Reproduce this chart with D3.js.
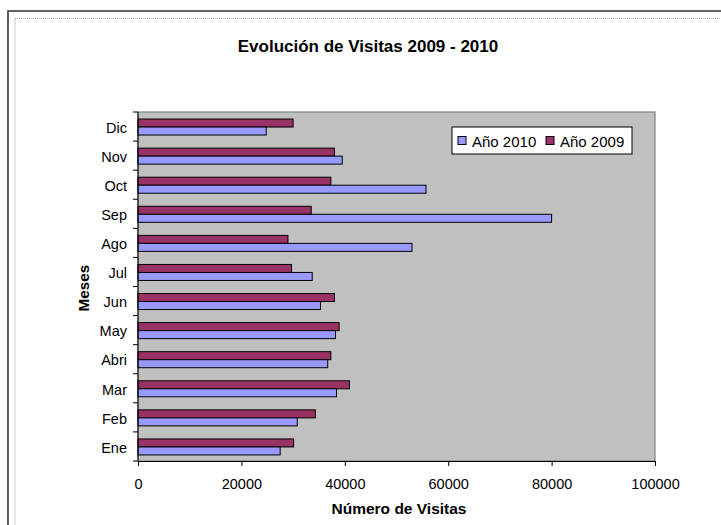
<!DOCTYPE html>
<html>
<head>
<meta charset="utf-8">
<script src="https://cdn.jsdelivr.net/npm/d3@7/dist/d3.min.js"></script>
<style>
body{margin:0;background:#fff}
svg text{font-family:"Liberation Sans",Arial,sans-serif;fill:#000}
</style>
</head>
<body>
<div id="chart"></div>
<script>
var width = 721
var height = 525

// data
var months = ["Ene","Feb","Mar","Abri","May","Jun","Jul","Ago","Sep","Oct","Nov","Dic"]
var visitas2010 = [27500,30800,38400,36700,38200,35300,33700,53000,80000,55700,39500,24800]
var visitas2009 = [30100,34300,40900,37300,38900,38000,29700,29000,33500,37300,38000,30000]
var xTicks = [0,20000,40000,60000,80000,100000]
var seriesNames = ["Año 2010","Año 2009"]
var seriesColors = ["#9999ff","#993366"]

var plot = {left:138, right:655, top:112, bottom:461}
var barH = 8

var svg = d3.select("#chart").append("svg")
	.attr("width",width)
	.attr("height",height)

// frame
svg.append("rect")
	.attr("x",8).attr("y",11)
	.attr("width",width+20).attr("height",height+20)
	.attr("fill","#fff")
	.attr("stroke","#3a3a3a")
	.attr("stroke-width",1.6)
svg.append("rect")
	.attr("x",15).attr("y",18.5)
	.attr("width",width+20).attr("height",height+20)
	.attr("fill","none")
	.attr("stroke","#9a9a9a")
	.attr("stroke-width",1)
	.attr("stroke-dasharray","1,1")

var x = d3.scaleLinear().domain([0,100000]).range([plot.left,plot.right])
var y = d3.scaleBand().domain(months).range([plot.bottom,plot.top])

// plot area
svg.append("rect")
	.attr("x",plot.left).attr("y",plot.top)
	.attr("width",plot.right-plot.left)
	.attr("height",plot.bottom-plot.top)
	.attr("fill","#c0c0c0")
	.attr("stroke","#808080")
	.attr("stroke-width",1.2)

// bars
var rows = months.map(function(m,i){
	return {mes:m, v2010:visitas2010[i], v2009:visitas2009[i]}
})
var mid = function(d){ return y(d.mes)+y.bandwidth()/2 }

svg.selectAll(".b2009")
	.data(rows)
	.enter()
	.append("rect")
	.attr("class","b2009")
	.attr("x",x(0))
	.attr("y",function(d){ return mid(d)-barH+0.5 })
	.attr("width",function(d){ return x(d.v2009)-x(0) })
	.attr("height",barH)
	.attr("fill",seriesColors[1])
	.attr("stroke","#000")
	.attr("stroke-width",1)

svg.selectAll(".b2010")
	.data(rows)
	.enter()
	.append("rect")
	.attr("class","b2010")
	.attr("x",x(0))
	.attr("y",function(d){ return mid(d)+0.5 })
	.attr("width",function(d){ return x(d.v2010)-x(0) })
	.attr("height",barH)
	.attr("fill",seriesColors[0])
	.attr("stroke","#000")
	.attr("stroke-width",1)

// x axis
var xAxis = d3.axisBottom(x)
	.tickValues(xTicks)
	.tickSize(5)
	.tickPadding(13)
	.tickFormat(d3.format("d"))
var gx = svg.append("g")
	.attr("transform","translate(0,"+plot.bottom+")")
	.call(xAxis)
gx.select(".domain").attr("stroke","#000")
gx.selectAll("text").style("font-size","14.5px")

// y axis: labels at band centres, ticks at band edges
var yAxis = d3.axisLeft(y).tickSize(0).tickPadding(11)
var gy = svg.append("g")
	.attr("transform","translate("+plot.left+",0)")
	.call(yAxis)
gy.select(".domain").remove()
gy.selectAll("text").style("font-size","14.5px").attr("dy","0.43em")

var edges = months.map(function(m){ return y(m) }).concat([plot.bottom])
svg.selectAll(".ytick")
	.data(edges)
	.enter()
	.append("line")
	.attr("x1",plot.left-5).attr("x2",plot.left)
	.attr("y1",function(d){ return d }).attr("y2",function(d){ return d })
	.attr("stroke","#000")
svg.append("line")
	.attr("x1",plot.left).attr("x2",plot.left)
	.attr("y1",plot.top).attr("y2",plot.bottom)
	.attr("stroke","#000")

// titles
svg.append("text")
	.attr("x",368).attr("y",52)
	.attr("text-anchor","middle")
	.style("font-size","17px").style("font-weight","bold")
	.text("Evolución de Visitas 2009 - 2010")
svg.append("text")
	.attr("x",399).attr("y",514)
	.attr("text-anchor","middle")
	.style("font-size","15.5px").style("font-weight","bold")
	.text("Número de Visitas")
svg.append("text")
	.attr("transform","translate(89,288) rotate(-90)")
	.attr("text-anchor","middle")
	.style("font-size","15.3px").style("font-weight","bold")
	.text("Meses")

// legend
var legend = svg.append("g").attr("transform","translate(452,127)")
legend.append("rect")
	.attr("width",180).attr("height",27)
	.attr("fill","#fff")
	.attr("stroke","#000")
	.attr("stroke-width",1)
var lx = [6,94]
seriesNames.forEach(function(name,i){
	legend.append("rect")
		.attr("x",lx[i]).attr("y",9.5)
		.attr("width",8).attr("height",8)
		.attr("fill",seriesColors[i])
		.attr("stroke","#000")
	legend.append("text")
		.attr("x",lx[i]+14).attr("y",20)
		.style("font-size","15px")
		.text(name)
})
</script>
</body>
</html>
